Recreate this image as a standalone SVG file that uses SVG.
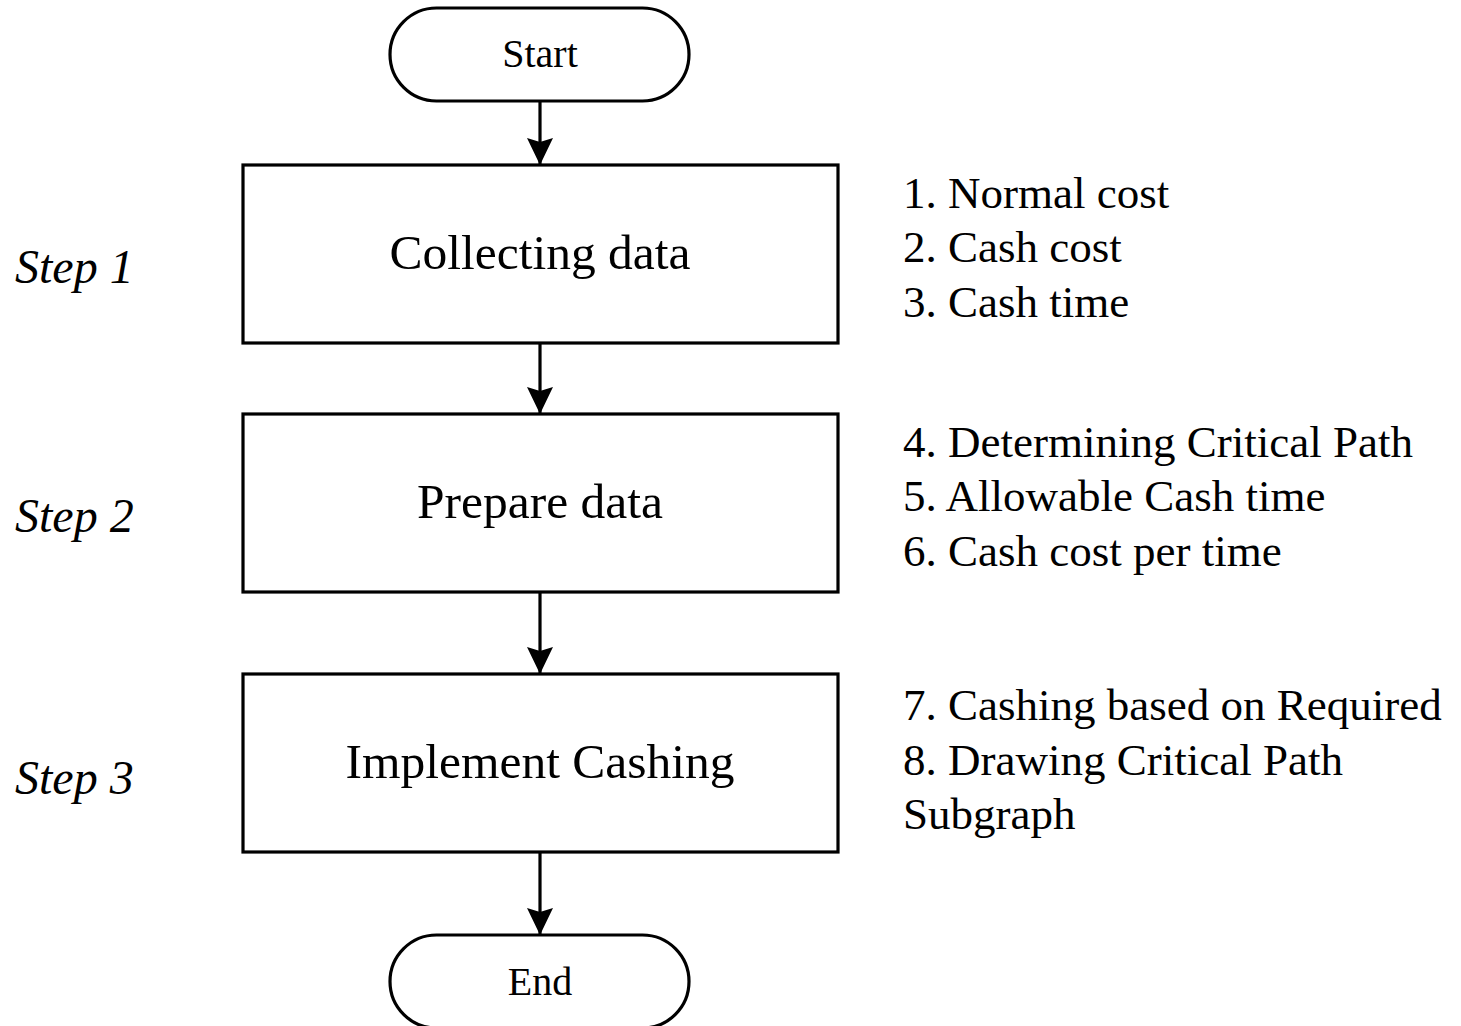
<svg xmlns="http://www.w3.org/2000/svg" width="1461" height="1026" viewBox="0 0 1461 1026">
  <style>
    .shape { fill: #ffffff; stroke: #000000; stroke-width: 3.2; }
    .edge { fill: none; stroke: #000000; stroke-width: 3.2; }
    .t { font-family: "Liberation Serif", "Times New Roman", serif; fill: #000000; }
    .term { font-size: 40px; text-anchor: middle; }
    .proc { font-size: 49.5px; text-anchor: middle; }
    .step { font-size: 48px; font-style: italic; }
    .note { font-size: 45px; }
  </style>
  <defs>
    <marker id="arrow" markerUnits="userSpaceOnUse" markerWidth="28" markerHeight="28" refX="27" refY="13" orient="auto">
      <path d="M0,0 L27,13 L0,26 L4,13 z" fill="#000000"/>
    </marker>
  </defs>

  <rect width="1461" height="1026" fill="#ffffff"/>

  <!-- connectors -->
  <g id="connectors">
    <line class="edge" x1="540" y1="101" x2="540" y2="165" marker-end="url(#arrow)"/>
    <line class="edge" x1="540" y1="343" x2="540" y2="414" marker-end="url(#arrow)"/>
    <line class="edge" x1="540" y1="592" x2="540" y2="674" marker-end="url(#arrow)"/>
    <line class="edge" x1="540" y1="852" x2="540" y2="935" marker-end="url(#arrow)"/>
  </g>

  <!-- terminals and process boxes -->
  <g id="start">
    <rect class="shape" x="390" y="8" width="299" height="93" rx="46.5" ry="46.5"/>
    <text class="t term" x="540" y="67">Start</text>
  </g>

  <g id="collecting">
    <rect class="shape" x="243" y="165" width="595" height="178"/>
    <text class="t proc" x="540" y="269">Collecting data</text>
  </g>

  <g id="prepare">
    <rect class="shape" x="243" y="414" width="595" height="178"/>
    <text class="t proc" x="540" y="518">Prepare data</text>
  </g>

  <g id="implement">
    <rect class="shape" x="243" y="674" width="595" height="178"/>
    <text class="t proc" x="540" y="778">Implement Cashing</text>
  </g>

  <g id="end">
    <rect class="shape" x="390" y="935" width="299" height="93" rx="46.5" ry="46.5"/>
    <text class="t term" x="540" y="995">End</text>
  </g>

  <!-- step labels -->
  <g id="step-labels">
    <text class="t step" x="15" y="283">Step 1</text>
    <text class="t step" x="15" y="532">Step 2</text>
    <text class="t step" x="15" y="794">Step 3</text>
  </g>

  <!-- task lists beside each step -->
  <g id="notes-1">
    <text class="t note" x="903" y="208">1. Normal cost</text>
    <text class="t note" x="903" y="262">2. Cash cost</text>
    <text class="t note" x="903" y="317">3. Cash time</text>
  </g>
  <g id="notes-2">
    <text class="t note" x="903" y="457">4. Determining Critical Path</text>
    <text class="t note" x="903" y="511">5. Allowable Cash time</text>
    <text class="t note" x="903" y="566">6. Cash cost per time</text>
  </g>
  <g id="notes-3">
    <text class="t note" x="903" y="720">7. Cashing based on Required</text>
    <text class="t note" x="903" y="775">8. Drawing Critical Path</text>
    <text class="t note" x="903" y="829">Subgraph</text>
  </g>
</svg>
